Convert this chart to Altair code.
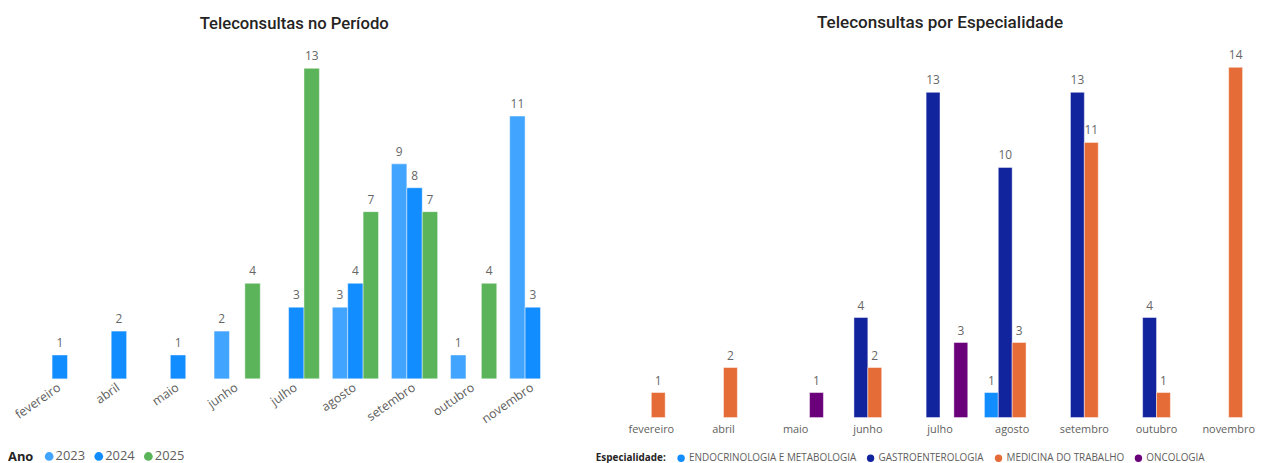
import altair as alt
import pandas as pd

meses = ["fevereiro", "abril", "maio", "junho", "julho", "agosto", "setembro", "outubro", "novembro"]

anos = ["2023", "2024", "2025"]
cores_ano = ["#41A4FF", "#118DFF", "#5BB45A"]
v2023 = [None, None, None, 2, None, 3, 9, 1, 11]
v2024 = [1, 2, 1, None, 3, 4, 8, None, 3]
v2025 = [None, None, None, 4, 13, 7, 7, 4, None]

especialidades = ["ENDOCRINOLOGIA E METABOLOGIA", "GASTROENTEROLOGIA", "MEDICINA DO TRABALHO", "ONCOLOGIA"]
cores_esp = ["#118DFF", "#12239E", "#E66C37", "#6B007B"]
endo = [None, None, None, None, None, 1, None, None, None]
gastro = [None, None, None, 4, 13, 10, 13, 4, None]
medtrab = [1, 2, None, 2, None, 3, 11, 1, 14]
onco = [None, None, 1, None, 3, None, None, None, None]


def longo(series, nomes, chave):
    rows = []
    for nome, vals in zip(nomes, series):
        for m, v in zip(meses, vals):
            if v is not None:
                rows.append({"mes": m, chave: nome, "valor": v})
    return pd.DataFrame(rows)


df1 = longo([v2023, v2024, v2025], anos, "ano")
df2 = longo([endo, gastro, medtrab, onco], especialidades, "esp")

FONT = "Open Sans"
GRAY = "#605E5C"
LBL = "#666666"
DARK = "#252423"

# ---- left chart
x1 = alt.X("mes:N", sort=meses,
           scale=alt.Scale(domain=meses, range=[22.4, 558.8], paddingInner=0, paddingOuter=0),
           axis=alt.Axis(title=None, labelAngle=-35, domain=False, ticks=False,
                         labelFont=FONT, labelFontSize=12.5, labelColor=GRAY, labelPadding=2,
                         labelOffset=-4))
xo1 = alt.XOffset("ano:N", scale=alt.Scale(domain=anos, paddingInner=0, paddingOuter=0.42))
y1 = alt.Y("valor:Q", scale=alt.Scale(domain=[0, 13.04], nice=False, zero=True), axis=None)

base1 = alt.Chart(df1).encode(x=x1, xOffset=xo1, y=y1)
bars1 = base1.mark_bar(stroke="white", strokeWidth=1, strokeOpacity=0.45).encode(
    color=alt.Color("ano:N", scale=alt.Scale(domain=anos, range=cores_ano),
                    legend=alt.Legend(title="Ano", orient="none", legendX=0, legendY=385.5,
                                      direction="horizontal", titleOrient="left",
                                      titleFont=FONT, titleFontSize=13, titleFontWeight="bold",
                                      titleColor=DARK, titlePadding=9,
                                      labelFont=FONT, labelFontSize=13, labelColor=GRAY,
                                      labelOffset=0, columnPadding=7,
                                      symbolType="circle", symbolSize=78, symbolStrokeWidth=0))
)
text1 = base1.mark_text(baseline="bottom", dy=-5, font=FONT, fontSize=12, color=LBL).encode(
    text="valor:Q")

left = alt.layer(bars1, text1).properties(
    width=560, height=314,
    title=alt.TitleParams("Teleconsultas no Período", font="Roboto", fontSize=16.8,
                          fontWeight=500, color=DARK, anchor="middle", frame="group",
                          dx=8.5, offset=18))

# ---- right chart
x2 = alt.X("mes:N", sort=meses,
           scale=alt.Scale(domain=meses, range=[19.6, 674.35], paddingInner=0, paddingOuter=0),
           axis=alt.Axis(title=None, labelAngle=0, domain=False, ticks=False,
                         labelFont=FONT, labelFontSize=11, labelColor=GRAY, labelPadding=6))
xo2 = alt.XOffset("esp:N", scale=alt.Scale(domain=especialidades, paddingInner=0, paddingOuter=0.6))
y2 = alt.Y("valor:Q", scale=alt.Scale(domain=[0, 14], nice=False, zero=True), axis=None)

base2 = alt.Chart(df2).encode(x=x2, xOffset=xo2, y=y2)
bars2 = base2.mark_bar(stroke="white", strokeWidth=1, strokeOpacity=0.45).encode(
    color=alt.Color("esp:N", scale=alt.Scale(domain=especialidades, range=cores_esp),
                    legend=alt.Legend(title="Especialidade:", orient="none", legendX=0, legendY=389,
                                      direction="horizontal", titleOrient="left",
                                      titleFont=FONT, titleFontSize=10, titleFontWeight="bold",
                                      titleColor=DARK, titlePadding=10,
                                      labelFont=FONT, labelFontSize=10, labelColor=GRAY,
                                      labelOffset=3, columnPadding=9, labelLimit=400,
                                      symbolType="circle", symbolSize=55, symbolStrokeWidth=0))
)
text2 = base2.mark_text(baseline="bottom", dy=-5, font=FONT, fontSize=12, color=LBL).encode(
    text="valor:Q")

right = alt.layer(bars2, text2).properties(
    width=661, height=353,
    title=alt.TitleParams("Teleconsultas por Especialidade", font="Roboto", fontSize=17.2,
                          fontWeight=500, color=DARK, anchor="middle", frame="group",
                          dx=16.5, offset=18))

chart = alt.hconcat(left, right, spacing=32.5).resolve_scale(
    color="independent", x="independent", y="independent", xOffset="independent"
).properties(
    padding={"top": 4, "left": 0, "right": 0, "bottom": 0}
).configure_view(stroke=None)

chart.save("out.html", embed_options={"renderer": "svg", "actions": False})
